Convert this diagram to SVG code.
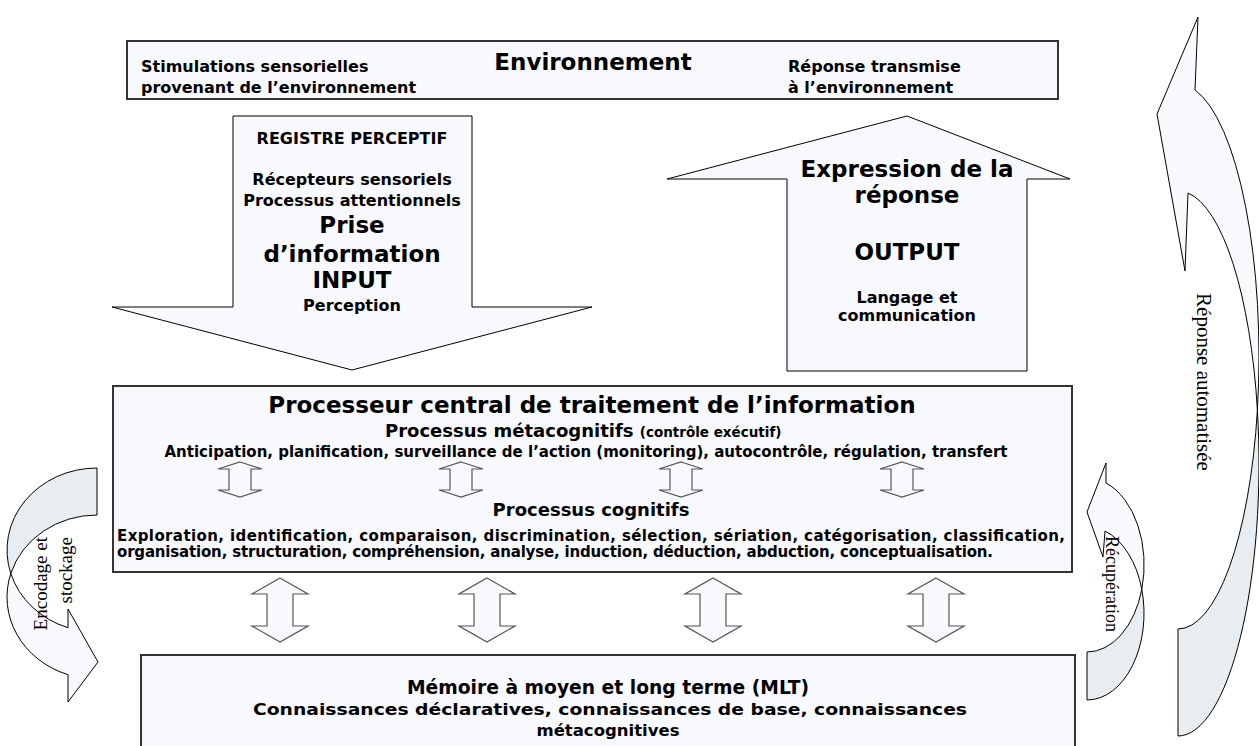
<svg xmlns="http://www.w3.org/2000/svg" width="1259" height="746" viewBox="0 0 1259 746">
<defs>
<style>
.box{fill:#f8f9fc;stroke:#333;stroke-width:2}
.shape{fill:#f8f9fc;stroke:#000;stroke-width:1}
.back{fill:#e8edf2;stroke:#000;stroke-width:1}
.dbl{fill:#f8f9fc;stroke:#555;stroke-width:1.2}
.t{font-family:"DejaVu Sans",Verdana,sans-serif;font-weight:bold;fill:#000}
.s16{font-size:16px}
.s15{font-size:15px}
.s13{font-size:13.5px}
.s18{font-size:18px}
.s23{font-size:23px}
.mid{text-anchor:middle}
.serif{font-family:"Liberation Serif","Times New Roman",serif;fill:#000}
</style>
<path id="dblS" d="M0,-17.5 L22,-10.5 L11,-10.5 L11,10.5 L22,10.5 L0,17.5 L-22,10.5 L-11,10.5 L-11,-10.5 L-22,-10.5 Z"/>
<path id="dblL" d="M0,-32 L28,-16 L13,-16 L13,16 L28,16 L0,32 L-28,16 L-13,16 L-13,-16 L-28,-16 Z"/>
</defs>

<g id="environnement">
<rect class="box" x="127" y="41" width="931" height="58"/>
<text class="t s16" x="141" y="72">Stimulations sensorielles</text>
<text class="t s16" x="141" y="93">provenant de l’environnement</text>
<text class="t s23 mid" x="593" y="70">Environnement</text>
<text class="t s16" x="788" y="72">Réponse transmise</text>
<text class="t s16" x="788" y="93">à l’environnement</text>
</g>

<g id="input">
<polygon class="shape" points="233,116 472,116 472,307 592,307 352,370 112,307 233,307"/>
<text class="t s16 mid" x="352" y="144">REGISTRE PERCEPTIF</text>
<text class="t s16 mid" x="352" y="185">Récepteurs sensoriels</text>
<text class="t s16 mid" x="352" y="206">Processus attentionnels</text>
<text class="t s23 mid" x="352" y="233">Prise</text>
<text class="t s23 mid" x="352" y="262">d’information</text>
<text class="t s23 mid" x="352" y="288">INPUT</text>
<text class="t s16 mid" x="352" y="311">Perception</text>
</g>

<g id="output">
<polygon class="shape" points="907,116 1070,179 1027,179 1027,371 787,371 787,179 667,179"/>
<text class="t s23 mid" x="907" y="177">Expression de la</text>
<text class="t s23 mid" x="907" y="203">réponse</text>
<text class="t s23 mid" x="907" y="260">OUTPUT</text>
<text class="t s16 mid" x="907" y="303">Langage et</text>
<text class="t s16 mid" x="907" y="321">communication</text>
</g>

<g id="processeur">
<rect class="box" x="113" y="386" width="959" height="186"/>
<text class="t s23 mid" x="592" y="413">Processeur central de traitement de l’information</text>
<text class="t s18" x="385" y="437">Processus métacognitifs <tspan class="s13">(contrôle exécutif)</tspan></text>
<text class="t s15 mid" x="586" y="457">Anticipation, planification, surveillance de l’action (monitoring), autocontrôle, régulation, transfert</text>
<text class="t s18 mid" x="591" y="516">Processus cognitifs</text>
<text class="t s15" x="117" y="541" textLength="948" lengthAdjust="spacing">Exploration, identification, comparaison, discrimination, sélection, sériation, catégorisation, classification,</text>
<text class="t s15" x="117" y="557" textLength="876" lengthAdjust="spacing">organisation,  structuration, compréhension, analyse, induction, déduction, abduction, conceptualisation.</text>
</g>

<g id="memoire">
<rect class="box" x="141" y="655" width="934" height="110"/>
<text class="t mid" style="font-size:20px" x="608" y="694" textLength="402" lengthAdjust="spacingAndGlyphs">Mémoire à moyen et long terme (MLT)</text>
<text class="t mid" style="font-size:16.5px" x="610" y="715" textLength="714" lengthAdjust="spacingAndGlyphs">Connaissances déclaratives, connaissances de base, connaissances</text>
<text class="t mid" style="font-size:16.5px" x="608" y="736">métacognitives</text>
</g>

<g id="connectors">
<g id="meta-cognitif-links" class="dbl">
<use href="#dblS" x="240" y="479.5"/>
<use href="#dblS" x="461" y="479.5"/>
<use href="#dblS" x="681" y="479.5"/>
<use href="#dblS" x="902" y="479.5"/>
</g>
<g id="processeur-memoire-links" class="dbl">
<use href="#dblL" x="280" y="610"/>
<use href="#dblL" x="487" y="610"/>
<use href="#dblL" x="713" y="610"/>
<use href="#dblL" x="936" y="610"/>
</g>
<g id="encodage">
<path class="back" d="M97,468 A90,82 0 0 0 10.8,573.5 A90,82 0 0 1 97,515 Z"/>
<path class="shape" d="M10.8,573.5 A90,82 0 0 0 68,627.7 L68,609 L98,662 L68,702 L68,674.7 A90,82 0 0 1 10.8,573.5 Z"/>
<text class="serif" style="font-size:19px" text-anchor="end" transform="translate(47,537) rotate(-90)">Encodage et</text>
<text class="serif" style="font-size:19px" text-anchor="end" transform="translate(72,537) rotate(-90)">stockage</text>
</g>
<g id="recuperation">
<path class="back" d="M1141.8,589.3 A57,86.7 0 0 1 1087,652 L1087,700 A57,86.7 0 0 0 1141.8,589.3 Z"/>
<path class="shape" d="M1141.8,589.3 A57,86.7 0 0 0 1106,483 L1106,463 L1087,512 L1103,557 L1105,531 A57,86.7 0 0 1 1141.8,589.3 Z"/>
<text class="serif" style="font-size:18px" transform="translate(1106,536) rotate(90)">Récupération</text>
</g>
<g id="reponse-automatisee">
<path class="back" d="M1257.4,410 A81,272.5 0 0 1 1178,629 L1178,736 A81,272.5 0 0 0 1257.4,410 Z"/>
<path class="shape" d="M1257.4,410 A81,272.5 0 0 0 1195,90 L1198,17 L1157,114 L1185,271 L1188,193 A81,272.5 0 0 1 1257.4,410 Z"/>
<text class="serif mid" style="font-size:21px" transform="translate(1197,382) rotate(90)">Réponse automatisée</text>
</g>
</g>
</svg>
